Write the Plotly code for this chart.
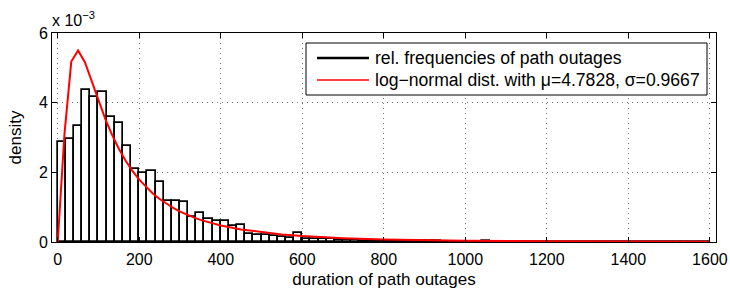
import plotly.graph_objects as go

# ---- data ----
bin_width = 20
bin_left_edges = list(range(0, 1600, 20))
# relative frequency density, in units of 1e-3
hist_density_e3 = [
    2.86, 2.96, 3.32, 4.37, 4.15, 4.30, 3.59, 3.42, 2.77, 2.10,
    1.97, 2.05, 1.73, 1.18, 1.18, 1.15, 0.73, 0.84, 0.65, 0.61,
    0.60, 0.47, 0.49, 0.24, 0.21, 0.19, 0.17, 0.14, 0.12, 0.25,
    0.10, 0.09, 0.08, 0.08, 0.07, 0.05, 0.05, 0.04, 0.04, 0.03,
    0.04, 0.03, 0.03, 0.02, 0.02, 0.02, 0.015, 0.01, 0.01, 0.01,
    0.01, 0.01, 0.03, 0.01, 0.005, 0.005, 0.0, 0.005, 0.0, 0.005,
    0.0, 0.0, 0.005, 0.0, 0.0, 0.0, 0.005, 0.0, 0.0, 0.0,
    0.0, 0.0, 0.0, 0.0, 0.0, 0.0, 0.0, 0.0, 0.0, 0.0,
]
# log-normal fit curve sample points
curve_x = [0, 16.67, 33.33, 50, 66.67, 83.33, 100, 116.67, 133.33, 150,
           166.67, 183.33, 200, 216.67, 233.33, 250, 266.67, 283.33, 300,
           316.67, 333.33, 350, 366.67, 383.33, 400, 450, 500, 550, 600,
           700, 800, 900, 1000, 1200, 1400, 1600]
curve_y = [0.0, 0.003109, 0.005180, 0.005501, 0.005161, 0.004620, 0.004058,
           0.003536, 0.003075, 0.002676, 0.002333, 0.002040, 0.001790,
           0.001576, 0.001391, 0.001233, 0.001096, 0.000977, 0.000874,
           0.000784, 0.000705, 0.000635, 0.000574, 0.000520, 0.000472,
           0.000358, 0.000276, 0.000215, 0.000171, 0.000111, 0.0000745,
           0.0000517, 0.0000368, 0.0000199, 0.0000115, 0.0000070]

x_ticks = [0, 200, 400, 600, 800, 1000, 1200, 1400, 1600]
y_ticks = [0, 0.002, 0.004, 0.006]
y_tick_text = ["0", "2", "4", "6"]

name_hist = "rel. frequencies of path outages"
name_fit = "log\u2212normal dist. with \u03bc=4.7828, \u03c3=0.9667"

FONT = "Liberation Sans, Arial, Helvetica, sans-serif"

W, H = 730, 293
ML, MR, MT, MB = 52, 14, 33, 51
PW, PH = W - ML - MR, H - MT - MB


def px_x(p):
    return (p - ML) / PW


def px_y(p):
    return (H - MB - p) / PH


bar_centers = [e + bin_width / 2 for e in bin_left_edges]
bar_heights = [v * 1e-3 for v in hist_density_e3]

fig = go.Figure()
fig.add_trace(go.Bar(
    x=bar_centers, y=bar_heights, width=bin_width,
    marker=dict(color="white", line=dict(color="black", width=1.7)),
    showlegend=False, name=name_hist,
))
fig.add_trace(go.Scatter(
    x=curve_x, y=curve_y, mode="lines",
    line=dict(color="#ff0000", width=2), name=name_fit, showlegend=False,
))

axis_common = dict(
    showline=True, linecolor="black", linewidth=1, mirror="ticks",
    ticks="inside", ticklen=5, tickcolor="black", tickwidth=1,
    showgrid=True, gridcolor="#7a7a7a", griddash="1px,4px", gridwidth=1,
    zeroline=False, automargin=False,
    tickfont=dict(family=FONT, size=16, color="black"),
)

# legend box drawn in the same style as the original (box + line samples)
leg_l, leg_r, leg_t, leg_b = 306, 707, 43, 95
rows = [(58, "black", 2.5, name_hist), (80, "#ff0000", 1.5, name_fit)]
shapes = [dict(type="rect", xref="paper", yref="paper",
               x0=px_x(leg_l), x1=px_x(leg_r), y0=px_y(leg_b), y1=px_y(leg_t),
               line=dict(color="black", width=1), fillcolor="white",
               layer="above")]
annotations = [dict(
    text="x 10<sup>\u22123</sup>", xref="paper", yref="paper",
    x=0, y=1, xanchor="left", yanchor="bottom", yshift=2, xshift=-2,
    showarrow=False, font=dict(family=FONT, size=16, color="black"),
)]
for yy, col, lw, label in rows:
    shapes.append(dict(type="line", xref="paper", yref="paper",
                       x0=px_x(317), x1=px_x(369), y0=px_y(yy), y1=px_y(yy),
                       line=dict(color=col, width=lw), layer="above"))
    annotations.append(dict(text=label, xref="paper", yref="paper",
                            x=px_x(373), y=px_y(yy), xanchor="left",
                            yanchor="middle", showarrow=False,
                            font=dict(family=FONT, size=17.6, color="black")))

fig.update_layout(
    width=W, height=H,
    margin=dict(l=ML, r=MR, t=MT, b=MB),
    paper_bgcolor="white", plot_bgcolor="white",
    font=dict(family=FONT, size=16, color="black"),
    bargap=0, showlegend=False,
    xaxis=dict(range=[-14, 1615], tickvals=x_ticks, ticklabelstandoff=3,
               title=dict(text="duration of path outages",
                          font=dict(family=FONT, size=17), standoff=5),
               **axis_common),
    yaxis=dict(range=[0, 0.006], tickvals=y_ticks, ticktext=y_tick_text,
               title=dict(text="density",
                          font=dict(family=FONT, size=17), standoff=12),
               **axis_common),
    shapes=shapes,
    annotations=annotations,
)

fig.write_html(
    "out.html",
    config={"displayModeBar": False},
    post_script="document.body.style.margin='0';document.body.style.padding='0';",
)
